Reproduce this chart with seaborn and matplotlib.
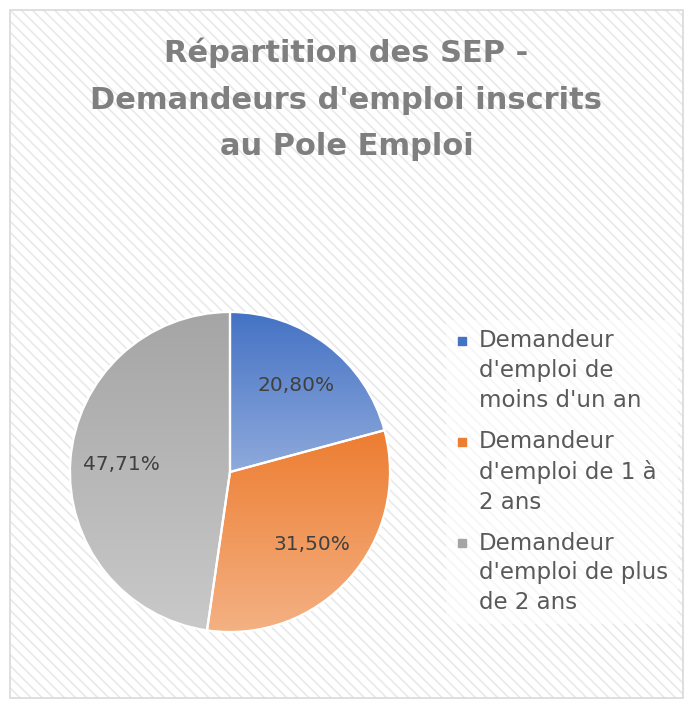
import numpy as np
import matplotlib
matplotlib.use("Agg")
import matplotlib.pyplot as plt
from matplotlib.patches import Rectangle
from matplotlib.lines import Line2D
from matplotlib.colors import LinearSegmentedColormap
from matplotlib.legend_handler import HandlerLine2D
import seaborn as sns

# ---- data ----
categories = [
    "Demandeur\nd'emploi de\nmoins d'un an",
    "Demandeur\nd'emploi de 1 à\n2 ans",
    "Demandeur\nd'emploi de plus\nde 2 ans",
]
values = [20.80, 31.50, 47.71]
label_texts = ["20,80%", "31,50%", "47,71%"]
title = "Répartition des SEP -\nDemandeurs d'emploi inscrits\nau Pole Emploi"

top_colors = ["#4472C4", "#ED7D31", "#A5A5A5"]
bottom_colors = ["#8FAADC", "#F4B183", "#C9C9C9"]

sns.set_theme(style="white")
plt.rcParams["font.family"] = ["DejaVu Sans"]
plt.rcParams["hatch.linewidth"] = 1.2
plt.rcParams["hatch.color"] = "#E9E9E9"

W, H = 693, 708
fig = plt.figure(figsize=(W / 100, H / 100), dpi=100)
fig.patch.set_facecolor("white")

# background with diagonal stripes and a light frame
bg = Rectangle((10 / W, 10 / H), (W - 20) / W, (H - 20) / H, transform=fig.transFigure,
               facecolor="white", edgecolor="#E9E9E9", hatch="\\\\\\", linewidth=0, zorder=-5)
fig.patches.append(bg)
frame = Rectangle((10 / W, 10 / H), (W - 20) / W, (H - 20) / H, transform=fig.transFigure,
                  facecolor="none", edgecolor="#D9D9D9", linewidth=1.2, zorder=-4)
fig.patches.append(frame)

# pie
cx, cy, r = 230, 472, 160
ax = fig.add_axes([(cx - r) / W, (H - cy - r) / H, 2 * r / W, 2 * r / H])
ax.set_zorder(2)
ax.set_facecolor("none")
wedges, _ = ax.pie(values, startangle=90, counterclock=False, radius=1.0,
                   colors=top_colors,
                   wedgeprops=dict(edgecolor="white", linewidth=1.6))

grad = np.linspace(0, 1, 256).reshape(-1, 1)
for w, tc, bc in zip(wedges, top_colors, bottom_colors):
    ext = w.get_path().get_extents()
    cmap = LinearSegmentedColormap.from_list("g", [tc, bc])
    im = ax.imshow(grad, cmap=cmap, aspect="auto",
                   extent=(ext.x0, ext.x1, ext.y0, ext.y1), origin="upper", zorder=2)
    im.set_clip_path(w)
    w.set_facecolor("none")
    w.set_zorder(3)
ax.set_xlim(-1.0, 1.0)
ax.set_ylim(-1.0, 1.0)
ax.set_aspect("equal")
ax.axis("off")

# percentage labels
total = sum(values)
start = 90.0
dist = 0.68
for v, t in zip(values, label_texts):
    mid = np.deg2rad(start - v / total * 360 / 2)
    ax.text(dist * np.cos(mid), dist * np.sin(mid), t, ha="center", va="center",
            fontsize=14.5, color="#404040", zorder=5)
    start -= v / total * 360

# title
fig.text(0.5, 1 - 38 / H, title, ha="center", va="top", fontsize=22, fontweight="bold",
         color="#7F7F7F", linespacing=1.75)


# legend with the marker aligned on the first line of each entry
class TopHandler(HandlerLine2D):
    def __init__(self, shift, **kw):
        super().__init__(**kw)
        self.shift = shift

    def create_artists(self, legend, orig_handle, xdescent, ydescent, width, height,
                       fontsize, trans):
        arts = super().create_artists(legend, orig_handle, xdescent, ydescent, width,
                                      height, fontsize, trans)
        for a in arts:
            a.set_ydata(np.asarray(a.get_ydata(), dtype=float) + self.shift)
        return arts


fs = 16.5
handles = [Line2D([0], [0], marker="s", linestyle="none", markersize=6,
                  markerfacecolor=c, markeredgecolor=c) for c in top_colors]
leg = fig.legend(handles, categories, loc="upper left",
                 bbox_to_anchor=(446 / W, 1 - 320 / H), frameon=True,
                 fontsize=fs, labelcolor="#595959", handlelength=0.6, handletextpad=0.45,
                 labelspacing=0.78, borderpad=0.4, borderaxespad=0,
                 handler_map={Line2D: TopHandler(shift=22.3)})
for t in leg.get_texts():
    t.set_linespacing(1.38)
leg.get_frame().set_facecolor("white")
leg.get_frame().set_alpha(0.6)
leg.get_frame().set_edgecolor("none")

fig.savefig("out.png", dpi=100)
